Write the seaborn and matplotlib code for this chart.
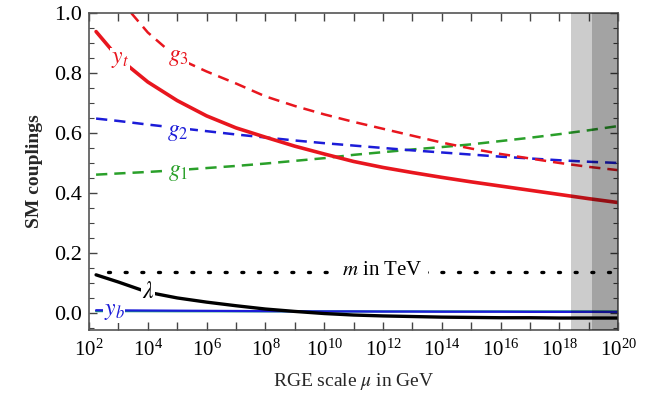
import numpy as np
import pandas as pd
import matplotlib
matplotlib.use("Agg")
import matplotlib.pyplot as plt
from matplotlib.ticker import FixedLocator, LogFormatterMathtext, MultipleLocator, NullFormatter
import seaborn as sns

# log10 of the RGE scale mu (GeV)
log_mu = [2.24, 3, 4, 5, 6, 7, 8, 9, 10, 11, 12, 13, 14, 15, 16, 17, 18, 19, 20]

y_top = [0.938, 0.85, 0.77, 0.708, 0.657, 0.617, 0.586, 0.556, 0.53, 0.505, 0.485,
         0.468, 0.452, 0.437, 0.423, 0.409, 0.395, 0.381, 0.368]
g3 = [1.12, 1.05, 0.935, 0.85, 0.805, 0.765, 0.722, 0.69, 0.662, 0.637, 0.614,
      0.591, 0.568, 0.548, 0.53, 0.515, 0.5, 0.487, 0.476]
g2 = [0.648, 0.64, 0.628, 0.617, 0.606, 0.595, 0.585, 0.575, 0.566, 0.558, 0.55,
      0.542, 0.535, 0.528, 0.521, 0.515, 0.509, 0.504, 0.5]
g1 = [0.461, 0.465, 0.47, 0.476, 0.483, 0.49, 0.498, 0.507, 0.516, 0.527, 0.536,
      0.545, 0.553, 0.562, 0.573, 0.584, 0.596, 0.609, 0.623]
lam = [0.127, 0.103, 0.069, 0.05, 0.036, 0.024, 0.013, 0.005, -0.002, -0.007, -0.01,
       -0.012, -0.014, -0.015, -0.016, -0.016, -0.017, -0.017, -0.017]
y_b = [0.009, 0.0085, 0.008, 0.0075, 0.007, 0.0065, 0.006, 0.0055, 0.005, 0.005, 0.0045,
       0.0045, 0.004, 0.004, 0.004, 0.0035, 0.0035, 0.0035, 0.003]
y_tau = [0.006, 0.006, 0.0058, 0.0056, 0.0055, 0.0054, 0.0053, 0.0052, 0.0051, 0.005, 0.005,
         0.005, 0.005, 0.005, 0.005, 0.005, 0.005, 0.005, 0.005]
m_tev_x = [2.65, 20]
m_tev = [0.137, 0.137]

# shaded region near the Planck scale (log10 mu)
band_light = (18.4, 19.1)
band_dark = (19.1, 20.0)

RED = "#e8161e"
BLUE = "#1c1cd8"
GREEN = "#2aa02a"

sns.set_theme(style="ticks")
plt.rcParams["font.family"] = ["Liberation Serif", "DejaVu Serif"]
plt.rcParams["mathtext.fontset"] = "stix"

fig = plt.figure(figsize=(6.46, 4.01), dpi=100)
ax = fig.add_axes([0.1378, 0.177, 0.819, 0.7906])

mu = [10 ** v for v in log_mu]
df = pd.DataFrame({"mu": mu, "yt": y_top, "g3": g3, "g2": g2, "g1": g1,
                   "lam": lam, "yb": y_b, "ytau": y_tau})

dash = (0, (4.5, 2.8))
sns.lineplot(data=df, x="mu", y="ytau", color="#1a9e7a", lw=1.6, ax=ax)
sns.lineplot(data=df, x="mu", y="yb", color=BLUE, lw=1.6, ax=ax)
sns.lineplot(data=df, x="mu", y="lam", color="black", lw=2.4, ax=ax)
sns.lineplot(data=df, x="mu", y="g1", color=GREEN, lw=1.8, ax=ax, linestyle=dash)
sns.lineplot(data=df, x="mu", y="g2", color=BLUE, lw=1.8, ax=ax, linestyle=dash)
sns.lineplot(data=df, x="mu", y="g3", color=RED, lw=1.8, ax=ax, linestyle=dash)
sns.lineplot(data=df, x="mu", y="yt", color=RED, lw=2.6, ax=ax)
sns.lineplot(x=[10 ** v for v in m_tev_x], y=m_tev, color="black", lw=2.4, ax=ax,
             linestyle=(0, (0.6, 4.4)), dash_capstyle="round")

ax.axvspan(10 ** band_light[0], 10 ** band_light[1], color="black", alpha=0.2, lw=0, zorder=5)
ax.axvspan(10 ** band_dark[0], 10 ** band_dark[1], color="black", alpha=0.36, lw=0, zorder=5)

box = dict(facecolor="white", edgecolor="none", pad=0.6)
lab = dict(fontsize=17, ha="center", va="center", bbox=box, zorder=4)
ax.text(10 ** 3.05, 0.845, r"$y_t$", color=RED, **lab)
ax.text(10 ** 5.03, 0.853, r"$g_3$", color=RED, **lab)
ax.text(10 ** 5.03, 0.603, r"$g_2$", color=BLUE, **lab)
ax.text(10 ** 5.03, 0.468, r"$g_1$", color=GREEN, **lab)
ax.text(10 ** 4.0, 0.068, r"$\lambda$", color="black", **lab)
ax.text(10 ** 2.85, 0.004, r"$y_b$", color=BLUE, **lab)
ax.text(10 ** 11.98, 0.14, r"$m$ in TeV", color="black", fontsize=15, ha="center",
        va="center", zorder=4, bbox=dict(facecolor="white", edgecolor="none", pad=4))

ax.set_xscale("log")
ax.set_xlim(1e2, 1e20)
ax.set_ylim(-0.057, 1.0)
ax.xaxis.set_major_locator(FixedLocator([10.0 ** k for k in range(2, 21, 2)]))
ax.xaxis.set_minor_locator(FixedLocator([10.0 ** k for k in range(3, 20, 2)]))
ax.xaxis.set_major_formatter(LogFormatterMathtext())
ax.xaxis.set_minor_formatter(NullFormatter())
ax.yaxis.set_major_locator(MultipleLocator(0.2))
ax.yaxis.set_minor_locator(MultipleLocator(0.05))
ax.yaxis.set_major_formatter(plt.FuncFormatter(lambda v, p: "%.1f" % v))

ax.tick_params(which="both", direction="in", top=True, right=True, colors="#444444",
               labelcolor="black")
ax.tick_params(axis="x", which="both", length=6, width=1, labelsize=15, pad=7)
ax.tick_params(axis="y", which="major", length=6, width=1, labelsize=16, pad=5)
ax.tick_params(axis="y", which="minor", length=3.5, width=0.8)
for s in ax.spines.values():
    s.set_color("#555555")
    s.set_linewidth(1.2)

ax.set_xlabel(r"RGE scale $\mu$ in GeV", fontsize=14, labelpad=7)
ax.set_ylabel("SM couplings", fontsize=14, fontweight="bold", labelpad=8)

fig.savefig("out.png", dpi=100)
